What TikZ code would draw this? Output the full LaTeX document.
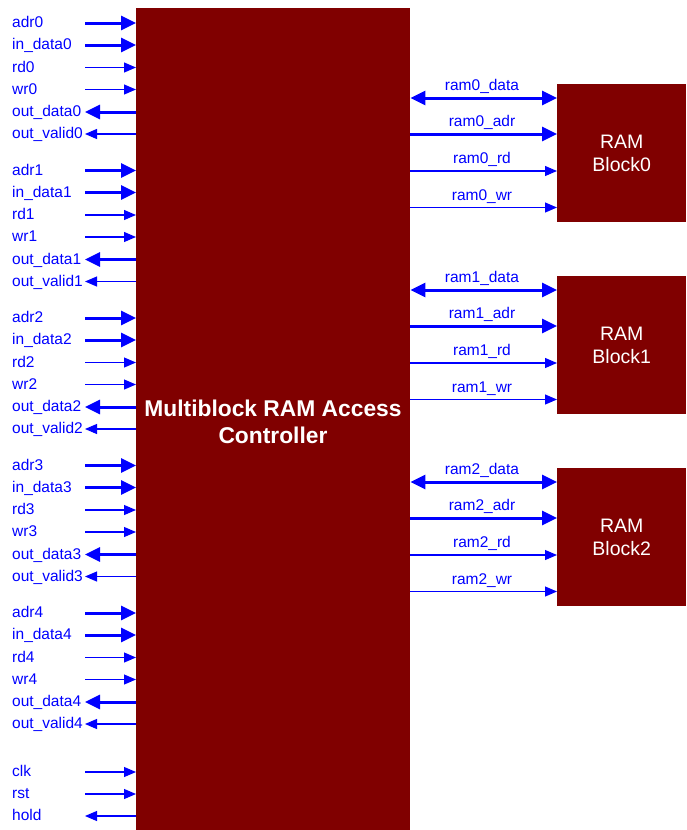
\documentclass[tikz,border=0pt]{standalone}
\usepackage{fontspec}
\setmainfont{Liberation Sans}
\usetikzlibrary{arrows.meta}
\definecolor{blk}{HTML}{800000}
\definecolor{sig}{HTML}{0000FF}
\begin{document}
\begin{tikzpicture}[x=1pt,y=-1pt,
  tip thick/.tip={Triangle[length=15pt,width=14pt]},
  tip thin/.tip={Triangle[length=12pt,width=10pt]},
  tin/.style={draw=sig, line width=3pt, -{tip thick}},
  nin/.style={draw=sig, line width=1.1pt, -{tip thin}},
  tout/.style={draw=sig, line width=3pt, {tip thick}-},
  nout/.style={draw=sig, line width=1.1pt, {tip thin}-},
  tboth/.style={draw=sig, line width=3pt, {tip thick}-{tip thick}},
  lbl/.style={text=sig, font=\fontsize{15.5}{18}\selectfont, inner sep=0pt},
  blockbox/.style={fill=blk, draw=none, inner sep=0pt, anchor=north west},
  blocktext/.style={text=white, align=center, inner sep=0pt}]
\useasboundingbox (0,0) rectangle (686,830);
% main controller
\node[blockbox, minimum width=274pt, minimum height=822pt] (mc) at (136,8) {};
\node[blocktext, font=\bfseries\fontsize{22.8}{27}\selectfont] (mct) at (273,421.5) {Multiblock RAM Access\\Controller};
% left ports
\foreach \g/\b in {0/23,1/170.5,2/318,3/465.5,4/613}{
  \foreach \k/\t/\o/\s in {1/adr/0/tin, 2/in\_data/22/tin, 3/rd/44.5/nin, 4/wr/66.5/nin, 5/out\_data/89/tout, 6/out\_valid/111/nout}{
    \pgfmathsetmacro\yy{\b+\o}
    \pgfmathsetmacro\ty{\yy+4.5}
    \node[lbl, anchor=base west] (l\g-\k) at (12,\ty) {\t\g};
    \coordinate (a\g-\k) at (85,\yy);
    \draw[\s] (a\g-\k) -- (mc.west |- a\g-\k);
  }
}
\foreach \k/\t/\yy/\s in {1/clk/772/nin, 2/rst/794/nin, 3/hold/816/nout}{
  \pgfmathsetmacro\ty{\yy+4.5}
  \node[lbl, anchor=base west] (m\k) at (12,\ty) {\t};
  \coordinate (c\k) at (85,\yy);
  \draw[\s] (c\k) -- (mc.west |- c\k);
}
% RAM blocks
\foreach \k in {0,1,2}{
  \pgfmathsetmacro\top{84+192*\k}
  \node[blockbox, minimum width=129pt, minimum height=138pt] (ram\k) at (557,\top) {};
  \node[blocktext, font=\fontsize{19.5}{23.5}\selectfont] (rt\k) at (ram\k.center) {RAM\\Block\k};
  \foreach \j/\t/\o/\s in {1/data/14/tboth, 2/adr/50/tin, 3/rd/87/nin, 4/wr/123.5/nin}{
    \pgfmathsetmacro\yy{\top+\o}
    \pgfmathsetmacro\ty{\yy-7.5}
    \coordinate (r\k-\j) at (482,\yy);
    \node[lbl, anchor=base] (rl\k-\j) at (482,\ty) {ram\k\_\t};
    \draw[\s] (mc.east |- r\k-\j) -- (ram\k.west |- r\k-\j);
  }
}
\end{tikzpicture}
\end{document}
